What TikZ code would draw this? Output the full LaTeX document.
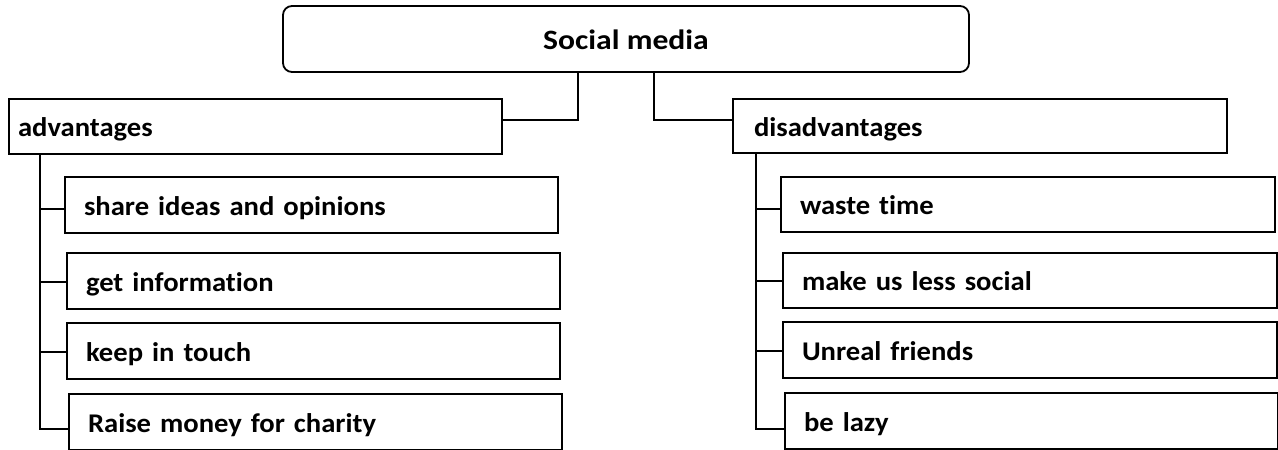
\documentclass[tikz,border=0pt]{standalone}
\usepackage{fontspec}
\setmainfont{Carlito}[Ligatures=NoCommon]
\newfontfamily\titlefont{Carlito}[Ligatures=NoCommon, FakeStretch=1.13]
\newfontfamily\boxfont{Carlito}[Ligatures=NoCommon, FakeStretch=1.06]
\begin{document}
\begin{tikzpicture}[x=1pt,y=-1pt,
  box/.style={draw=black, line width=1.8pt, outer sep=0pt, inner xsep=19pt, inner ysep=0pt,
     text height=20pt, text depth=0pt,
     anchor=north west, align=left, font=\boxfont\fontsize{27}{32}\selectfont\bfseries},
  conn/.style={draw=black, line width=1.8pt}]
\useasboundingbox (0,0) rectangle (1278,450);
% top
\node[draw=black, line width=1.8pt, rounded corners=9pt, outer sep=0pt, inner ysep=0pt,
  minimum width=686pt, minimum height=66pt, text height=20pt, text depth=0pt,
  anchor=north west, font=\titlefont\fontsize{28}{32}\selectfont\bfseries] (top) at (283,6) {Social media};
% level 1
\node[box, inner xsep=9pt, minimum height=55pt, text width=475pt] (adv) at (9,99) {advantages};
\node[box, inner xsep=21pt, minimum height=54pt, text width=452pt] (dis) at (733,99) {disadvantages};
% left children
\node[box, minimum height=56pt, text width=455pt] (a1) at (65,177) {share ideas and opinions};
\node[box, minimum height=56pt, text width=455pt] (a2) at (67,253) {get information};
\node[box, minimum height=56pt, text width=455pt] (a3) at (67,323) {keep in touch};
\node[box, minimum height=56pt, text width=455pt] (a4) at (69,394) {Raise money for charity};
% right children
\node[box, minimum height=55pt, text width=456pt] (d1) at (781,177) {waste time};
\node[box, minimum height=55pt, text width=456pt] (d2) at (783,253) {make us less social};
\node[box, minimum height=56pt, text width=456pt] (d3) at (783,322) {Unreal friends};
\node[box, minimum height=56pt, text width=455pt] (d4) at (785,393) {be lazy};
% helper coordinates
\coordinate (lx) at (578,120);
\coordinate (rx) at (654,120);
\coordinate (lv) at (40,429);
\coordinate (rv) at (756,429);
\coordinate (t1) at (0,209);
\coordinate (t2) at (0,282);
\coordinate (t3) at (0,352);
\coordinate (u1) at (0,209);
\coordinate (u2) at (0,281);
\coordinate (u3) at (0,351);
% top connectors
\draw[conn] (top.south -| lx) -- (lx) -- (adv.east |- lx);
\draw[conn] (top.south -| rx) -- (rx) -- (dis.west |- rx);
% left tree
\draw[conn] (adv.south -| lv) -- (lv) -- (a4.west |- lv);
\draw[conn] (lv |- t1) -- (a1.west |- t1);
\draw[conn] (lv |- t2) -- (a2.west |- t2);
\draw[conn] (lv |- t3) -- (a3.west |- t3);
% right tree
\draw[conn] (dis.south -| rv) -- (rv) -- (d4.west |- rv);
\draw[conn] (rv |- u1) -- (d1.west |- u1);
\draw[conn] (rv |- u2) -- (d2.west |- u2);
\draw[conn] (rv |- u3) -- (d3.west |- u3);
\end{tikzpicture}
\end{document}
